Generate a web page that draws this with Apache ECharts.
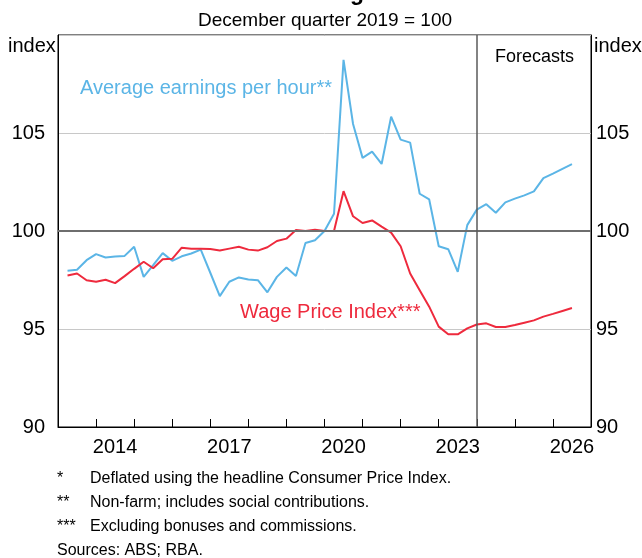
<!DOCTYPE html>
<html>
<head>
<meta charset="utf-8">
<script src="https://cdn.jsdelivr.net/npm/echarts@6.0.0/dist/echarts.min.js"></script>
<style>
  html, body { margin: 0; padding: 0; background: #ffffff; }
  #chart { width: 642px; height: 558px; }
</style>
</head>
<body>
<div id="chart"></div>
<script>
// Quarterly observations (quarter ending), actuals then RBA forecasts
const quarters = [
  '2013Q1','2013Q2','2013Q3','2013Q4','2014Q1','2014Q2','2014Q3','2014Q4',
  '2015Q1','2015Q2','2015Q3','2015Q4','2016Q1','2016Q2','2016Q3','2016Q4',
  '2017Q1','2017Q2','2017Q3','2017Q4','2018Q1','2018Q2','2018Q3','2018Q4',
  '2019Q1','2019Q2','2019Q3','2019Q4','2020Q1','2020Q2','2020Q3','2020Q4',
  '2021Q1','2021Q2','2021Q3','2021Q4','2022Q1','2022Q2','2022Q3','2022Q4',
  '2023Q1','2023Q2','2023Q3','2023Q4','2024Q1','2024Q2','2024Q3','2024Q4',
  '2025Q1','2025Q2','2025Q3','2025Q4','2026Q1','2026Q2'
];

// Real average earnings per hour (index, Dec quarter 2019 = 100)
const earningsPerHour = [
  97.97, 98.02, 98.51, 98.82, 98.65, 98.70, 98.73, 99.20,
  97.66, 98.26, 98.87, 98.48, 98.71, 98.85, 99.05, 97.87,
  96.68, 97.41, 97.63, 97.53, 97.49, 96.87, 97.66, 98.14,
  97.70, 99.39, 99.53, 100.00, 100.88, 108.73, 105.46, 103.73,
  104.05, 103.42, 105.83, 104.66, 104.51, 101.90, 101.61, 99.22,
  99.07, 97.92, 100.30, 101.09, 101.37, 100.93, 101.46, 101.65,
  101.82, 102.02, 102.70, 102.93, 103.17, 103.41
];

// Real Wage Price Index (index, Dec quarter 2019 = 100)
const wagePriceIndex = [
  97.73, 97.83, 97.49, 97.41, 97.51, 97.34, 97.70, 98.07,
  98.43, 98.10, 98.56, 98.58, 99.15, 99.10, 99.09, 99.08,
  99.00, 99.10, 99.20, 99.05, 99.00, 99.17, 99.49, 99.61,
  100.05, 100.00, 100.07, 100.00, 100.00, 102.03, 100.75, 100.41,
  100.54, 100.22, 99.92, 99.22, 97.83, 96.98, 96.14, 95.12,
  94.73, 94.73, 95.03, 95.23, 95.29, 95.10, 95.10, 95.20,
  95.32, 95.44, 95.63, 95.77, 95.92, 96.07
];

const yearTicks = [2013,2014,2015,2016,2017,2018,2019,2020,2021,2022,2023,2024,2025,2026,2027];
const yearLabels = [2014, 2017, 2020, 2023, 2026];
const forecastFrom = '2023Q4';

const FONT = '"Liberation Sans", Arial, sans-serif';
const BLUE = '#5bb5e6';
const RED = '#ee2a3d';

// quarter label -> decimal year at the end of that quarter
function quarterEnd(q) {
  return Number(q.slice(0, 4)) + Number(q.slice(5)) * 0.25;
}

const chart = echarts.init(document.getElementById('chart'), null, { renderer: 'canvas' });

const yAxisCommon = {
  type: 'value',
  min: 90,
  max: 110,
  interval: 5,
  axisLine: { show: true, lineStyle: { color: '#000', width: 1 } },
  axisTick: { show: false },
  axisLabel: {
    color: '#000',
    fontSize: 20,
    fontFamily: FONT,
    formatter: v => (v === 110 ? '' : String(v))
  }
};

chart.setOption({
  animation: false,
  backgroundColor: '#ffffff',
  grid: {
    left: 58, right: 51, top: 35, bottom: 131,
    show: true, borderColor: '#000', borderWidth: 1,
    containLabel: false
  },
  xAxis: {
    type: 'value',
    min: 2013,
    max: 2027,
    interval: 1,
    axisLine: { show: true, onZero: false, lineStyle: { color: '#000', width: 1 } },
    axisTick: {
      show: true, inside: true, length: 8,
      customValues: yearTicks,
      lineStyle: { color: '#000', width: 1 }
    },
    axisLabel: {
      color: '#000', fontSize: 20, fontFamily: FONT, margin: 10,
      customValues: yearLabels.map(y => y + 0.5),
      formatter: v => String(Math.floor(v))
    },
    splitLine: { show: false }
  },
  yAxis: [
    Object.assign({}, yAxisCommon, {
      position: 'left',
      axisLabel: Object.assign({}, yAxisCommon.axisLabel, { margin: 13 }),
      splitLine: { show: true, lineStyle: { color: '#c8c8c8', width: 1 } }
    }),
    Object.assign({}, yAxisCommon, {
      position: 'right',
      axisLabel: Object.assign({}, yAxisCommon.axisLabel, { margin: 5 }),
      splitLine: { show: false }
    })
  ],
  series: [
    {
      // reference lines: base-period level and start of the forecast period
      type: 'line',
      data: [],
      z: 1,
      markLine: {
        silent: true,
        symbol: 'none',
        label: { show: false },
        data: [
          { yAxis: 100, lineStyle: { color: '#6e6e6e', width: 2, type: 'solid' } },
          { xAxis: quarterEnd(forecastFrom), lineStyle: { color: '#5a5a5a', width: 1.5, type: 'solid' } }
        ]
      }
    },
    {
      name: 'Average earnings per hour**',
      type: 'line',
      z: 3,
      showSymbol: false,
      lineStyle: { color: BLUE, width: 2 },
      itemStyle: { color: BLUE },
      data: quarters.map((q, i) => [quarterEnd(q), earningsPerHour[i]])
    },
    {
      name: 'Wage Price Index***',
      type: 'line',
      z: 4,
      showSymbol: false,
      lineStyle: { color: RED, width: 2 },
      itemStyle: { color: RED },
      data: quarters.map((q, i) => [quarterEnd(q), wagePriceIndex[i]])
    }
  ],
  graphic: [
    { type: 'text', x: 330, y: -18, style: { text: 'Real Wages*', font: 'bold 23px ' + FONT, fill: '#000', align: 'center' } },
    { type: 'text', x: 325, y: 11, style: { text: 'December quarter 2019 = 100', font: '19px ' + FONT, fill: '#000', align: 'center' } },
    { type: 'text', x: 8, y: 36, style: { text: 'index', font: '20px ' + FONT, fill: '#000' } },
    { type: 'text', x: 594, y: 36, style: { text: 'index', font: '20px ' + FONT, fill: '#000' } },
    { type: 'text', x: 495, y: 48, style: { text: 'Forecasts', font: '18px ' + FONT, fill: '#000' } },
    { type: 'text', x: 80, y: 78, style: { text: 'Average earnings per hour**', font: '20px ' + FONT, fill: BLUE } },
    { type: 'text', x: 240, y: 302, style: { text: 'Wage Price Index***', font: '20px ' + FONT, fill: RED } },
    { type: 'text', x: 57, y: 471, style: { text: '*', font: '16px ' + FONT, fill: '#000' } },
    { type: 'text', x: 90, y: 471, style: { text: 'Deflated using the headline Consumer Price Index.', font: '16px ' + FONT, fill: '#000' } },
    { type: 'text', x: 57, y: 495, style: { text: '**', font: '16px ' + FONT, fill: '#000' } },
    { type: 'text', x: 90, y: 495, style: { text: 'Non-farm; includes social contributions.', font: '16px ' + FONT, fill: '#000' } },
    { type: 'text', x: 57, y: 519, style: { text: '***', font: '16px ' + FONT, fill: '#000' } },
    { type: 'text', x: 90, y: 519, style: { text: 'Excluding bonuses and commissions.', font: '16px ' + FONT, fill: '#000' } },
    { type: 'text', x: 57, y: 543, style: { text: 'Sources: ABS; RBA.', font: '16px ' + FONT, fill: '#000' } }
  ]
});
</script>
</body>
</html>
